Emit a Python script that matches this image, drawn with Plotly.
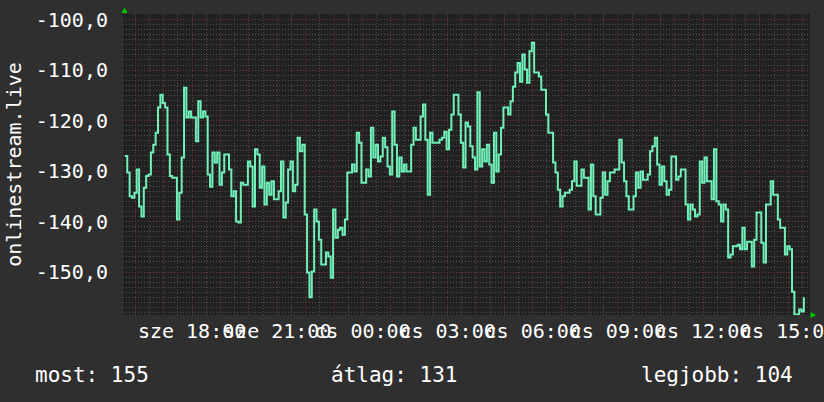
import pandas as pd
import plotly.graph_objects as go

# 5-minute samples
vals_a = [-127.0, -130.3, -135.0, -135.3, -134.3, -129.7, -137.0, -139.0, -133.3, -131.0, -130.7, -126.3,
          -124.8, -122.4, -117.4, -114.9, -116.5, -117.4, -126.7, -131.0, -131.3, -131.3, -139.6, -134.3,
          -127.3, -113.5, -119.4, -118.2, -119.4, -119.4, -124.1, -116.2, -119.4, -118.2, -119.2, -130.7,
          -133.1, -126.3, -128.3, -126.3, -132.7, -130.3, -126.7, -126.7, -129.7, -135.0, -134.0, -140.0,
          -140.2, -132.3, -132.7, -132.7, -128.1, -129.1, -137.0, -125.7, -126.7, -133.3, -129.1, -136.6,
          -132.3, -134.7, -132.0, -135.6, -135.6, -134.0, -128.1, -139.2, -136.2, -129.7, -128.1, -134.0]
vals_b = [-132.7, -123.4, -126.1, -124.8, -138.6, -150.1, -155.0, -149.9, -137.6, -140.0, -143.6, -148.5,
          -148.5, -146.1, -146.9, -151.1, -137.6, -143.2, -141.6, -141.2, -142.6, -139.6, -130.3, -130.3,
          -128.7, -130.1, -122.4, -124.4, -132.3, -132.3, -129.7, -131.1, -121.4, -127.3, -124.8, -128.1,
          -127.1, -123.4, -125.3, -129.1, -130.7, -118.2, -124.8, -131.1, -127.3, -130.1, -128.7, -130.1,
          -130.1, -124.8, -121.4, -123.8, -123.8, -119.2, -116.8, -123.8, -134.7, -122.4, -124.4, -124.4,
          -124.4, -123.8, -123.4, -122.2, -125.7, -121.8, -118.8, -114.9, -114.9, -118.8, -124.4, -129.3]
vals_c = [-120.4, -121.2, -125.1, -127.3, -129.7, -114.4, -129.1, -125.7, -128.1, -124.8, -128.7, -132.3,
          -122.4, -130.1, -126.7, -121.4, -117.4, -117.4, -118.8, -116.2, -113.3, -110.5, -108.6, -112.3,
          -106.9, -109.9, -112.5, -106.3, -104.6, -110.5, -110.5, -111.3, -113.9, -113.9, -118.8, -122.4,
          -122.4, -128.3, -130.3, -133.7, -137.0, -135.0, -134.3, -134.3, -133.7, -132.0, -128.1, -132.9,
          -132.9, -129.7, -131.3, -131.3, -137.6, -128.7, -135.0, -138.6, -138.6, -135.3, -130.3, -134.7,
          -132.0, -130.3, -130.3, -129.7, -129.7, -123.8, -128.3, -132.0, -135.0, -137.6, -137.6, -135.0]
vals_d = [-130.3, -133.3, -130.1, -131.7, -131.7, -130.7, -126.1, -125.1, -123.4, -128.7, -132.7, -129.1,
          -132.0, -134.7, -133.7, -127.1, -127.1, -131.7, -131.1, -129.7, -129.7, -136.6, -139.6, -136.6,
          -137.6, -139.0, -138.6, -128.1, -132.3, -127.3, -132.0, -132.0, -135.6, -125.7, -136.0, -136.6,
          -140.0, -136.6, -137.6, -147.1, -146.5, -144.9, -144.9, -144.6, -145.5, -141.2, -145.5, -144.0,
          -144.0, -148.9, -143.6, -138.2, -138.2, -144.2, -148.1, -136.6, -136.6, -132.0, -134.7, -134.7,
          -139.6, -141.2, -141.2, -146.5, -144.9, -145.5, -153.9, -158.4, -158.4, -157.4, -157.8, -155.0]
values = vals_a + vals_b + vals_c + vals_d

start_time = "2024-01-03 15:38"          # Wednesday (sze)
times = pd.date_range(start_time, periods=len(values), freq="5min")

y_ticks = [-100, -110, -120, -130, -140, -150]
y_tick_labels = ["-100,0", "-110,0", "-120,0", "-130,0", "-140,0", "-150,0"]

hour_ticks = pd.date_range("2024-01-03 16:00", "2024-01-04 15:00", freq="1h")
day_names = {2: "sze", 3: "cs"}
x_tick_labels = [f"{day_names[t.dayofweek]} {t:%H:%M}" if t.hour % 3 == 0 else "" for t in hour_ticks]

axis_title = "onlinestream.live"
legend_items = ["most: 155", "átlag: 131", "legjobb: 104"]

FONT = "DejaVu Sans Mono"
BG = "#2f2f2f"
PLOT_BG = "#212121"
MAJOR = "#7a3434"
MINOR = "#4f4f4f"
LINE = "#70f0b8"

fig = go.Figure()
fig.add_trace(go.Scatter(x=times, y=values, mode="lines", line=dict(color=LINE, width=2, shape="hv"),
                         hoverinfo="skip", showlegend=False))

fig.update_layout(
    width=824, height=402,
    margin=dict(l=123, r=14, t=14, b=87, pad=0),
    paper_bgcolor=BG, plot_bgcolor=PLOT_BG,
    font=dict(family=FONT, color="#ffffff", size=20),
    showlegend=False,
)
fig.update_xaxes(
    range=["2024-01-03 15:34", "2024-01-04 15:46"],
    tickmode="array", tickvals=hour_ticks, ticktext=x_tick_labels,
    showgrid=True, gridcolor=MAJOR, griddash="1px,2px", gridwidth=1,
    minor=dict(tickmode="linear", tick0="2024-01-03 16:00", dtick=30 * 60 * 1000,
               showgrid=True, gridcolor=MINOR, griddash="1px,2px", gridwidth=1),
    zeroline=False, showline=False, ticks="", tickangle=0, automargin=False,
    ticklabeloverflow="allow",
    tickfont=dict(family=FONT, size=20, color="#ffffff"),
    ticklabelstandoff=2,
)
fig.update_yaxes(
    range=[-158.5, -98.9],
    tickmode="array", tickvals=y_ticks, ticktext=y_tick_labels,
    showgrid=True, gridcolor=MAJOR, griddash="1px,2px", gridwidth=1,
    minor=dict(tickmode="linear", tick0=0, dtick=1,
               showgrid=True, gridcolor=MINOR, griddash="1px,2px", gridwidth=1),
    zeroline=False, showline=False, ticks="", automargin=False,
    tickfont=dict(family=FONT, size=20, color="#ffffff"),
    ticklabelstandoff=14,
)

fig.add_annotation(text=axis_title, xref="paper", yref="paper", x=-0.1587, y=0.502,
                   textangle=-90, showarrow=False, xanchor="center", yanchor="middle",
                   font=dict(family=FONT, size=20, color="#ffffff"))

legend_x = [-0.131, 0.2999, 0.7511]
for txt, lx in zip(legend_items, legend_x):
    fig.add_annotation(text=txt, xref="paper", yref="paper", x=lx, y=-0.199,
                       xanchor="left", yanchor="middle", showarrow=False,
                       font=dict(family=FONT, size=21, color="#ffffff"))

# axis arrows
fig.add_shape(type="path", xref="paper", yref="paper", xsizemode="pixel", ysizemode="pixel",
              xanchor=0, yanchor=1, path="M -1.5,1 L 4.5,1 L 1.5,6.5 Z",
              fillcolor="#00c800", line=dict(width=0))
fig.add_shape(type="path", xref="paper", yref="paper", xsizemode="pixel", ysizemode="pixel",
              xanchor=1, yanchor=0, path="M 0.5,-3 L 0.5,3 L 6,0 Z",
              fillcolor="#00c800", line=dict(width=0))

fig.write_html("out.html", config={"displayModeBar": False},
               post_script="document.body.style.margin='0px';document.body.style.overflow='hidden';")
